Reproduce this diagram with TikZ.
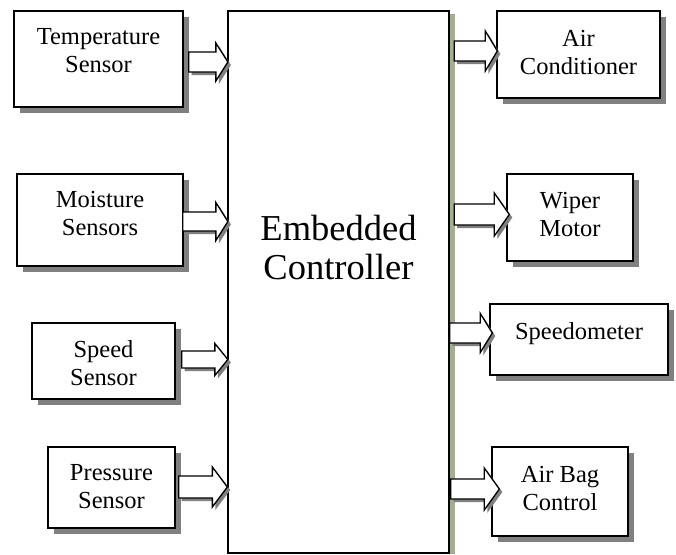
\documentclass[tikz,border=0pt]{standalone}
\usepackage{fontspec}
\setmainfont{Liberation Serif}
\usetikzlibrary{calc,shadows}
\definecolor{shadowgray}{RGB}{128,128,128}
\definecolor{sage}{RGB}{163,176,142}
\tikzset{
  x=1pt, y=-1pt,
  blk/.style={draw=black, line width=1.4pt, fill=white, inner sep=0pt,
    drop shadow={shadow xshift=5.5pt, shadow yshift=-5.5pt, fill=shadowgray, opacity=1}},
  ctrl/.style={draw=black, line width=1.3pt, fill=white, inner sep=0pt},
  txt/.style={font=\fontsize{24.5}{28}\selectfont, align=center, inner sep=0pt, anchor=north},
  bigtxt/.style={font=\fontsize{36.5}{39}\selectfont, align=center, inner sep=0pt, anchor=north},
  arr/.style={draw=black, line width=1.3pt, fill=white, line join=miter},
  arrshadow/.style={fill=shadowgray},
}
% #1 from node anchor, #2 to node anchor, #3/#4 x offsets, #5 y centre,
% #6 shaft half width, #7 head half width, #8 head length
\def\blockarrow#1#2#3#4#5#6#7#8{%
  \path let \p1=($(#1)+(#3,0)$), \p2=($(#2)+(#4,0)$) in
    coordinate (s) at (\x1,-#5pt) coordinate (e) at (\x2,-#5pt);
  \fill[arrshadow] ($(s)+(3,3-#6)$) -- ($(e)+(3-#8,3-#6)$) -- ($(e)+(3-#8,3-#7)$)
    -- ($(e)+(3,3)$) -- ($(e)+(3-#8,3+#7)$) -- ($(e)+(3-#8,3+#6)$) -- ($(s)+(3,3+#6)$) -- cycle;
  \draw[arr] ($(s)+(0,-#6)$) -- ($(e)+(-#8,-#6)$) -- ($(e)+(-#8,-#7)$)
    -- (e) -- ($(e)+(-#8,#7)$) -- ($(e)+(-#8,#6)$) -- ($(s)+(0,#6)$) -- cycle;
}
\begin{document}
\begin{tikzpicture}
\useasboundingbox (0,0) rectangle (676,554);

% central controller
\node[ctrl, minimum width=221pt, minimum height=542pt] (ec) at (338.5,282) {};
\fill[sage] ($(ec.north east)+(0.7,4)$) rectangle ($(ec.south east)+(5.5,0)$);
\node[bigtxt] (ect) at ($(ec.north)+(0,205)$) {Embedded\\Controller};

% input boxes
\node[blk, minimum width=169pt, minimum height=96pt] (ts) at (98.5,59) {};
\node[txt] (tst) at ($(ts.north)+(0,17.5)$) {Temperature\\Sensor};
\node[blk, minimum width=166pt, minimum height=92pt] (ms) at (100,220) {};
\node[txt] (mst) at ($(ms.north)+(0,17.5)$) {Moisture\\Sensors};
\node[blk, minimum width=143pt, minimum height=76pt] (ss) at (103.5,361) {};
\node[txt] (sst) at ($(ss.north)+(0,18)$) {Speed\\Sensor};
\node[blk, minimum width=127pt, minimum height=81pt] (ps) at (111.5,487.5) {};
\node[txt] (pst) at ($(ps.north)+(0,17.5)$) {Pressure\\Sensor};

% output boxes
\node[blk, minimum width=163pt, minimum height=87pt] (ac) at (578.5,54.5) {};
\node[txt] (act) at ($(ac.north)+(0,20)$) {Air\\Conditioner};
\node[blk, minimum width=126pt, minimum height=87pt] (wm) at (570,217.5) {};
\node[txt] (wmt) at ($(wm.north)+(0,18.5)$) {Wiper\\Motor};
\node[blk, minimum width=178pt, minimum height=71pt] (sp) at (579,339.5) {};
\node[txt] (spt) at ($(sp.north)+(0,18.5)$) {Speedometer};
\node[blk, minimum width=136pt, minimum height=89pt] (ab) at (560,491.5) {};
\node[txt] (abt) at ($(ab.north)+(0,19.5)$) {Air Bag\\Control};

% arrows into controller
\blockarrow{ts.east}{ec.west}{5}{0.5}{62}{10}{19}{12}
\blockarrow{ms.east}{ec.west}{-1}{0.5}{221.5}{9.5}{19}{12}
\blockarrow{ss.east}{ec.west}{6}{0.5}{359.5}{8.5}{16}{13}
\blockarrow{ps.east}{ec.west}{3}{0}{487}{11}{20}{15}

% arrows out of controller
\blockarrow{ec.east}{ac.west}{4.5}{1}{51}{10}{20}{12}
\blockarrow{ec.east}{wm.west}{4.5}{3}{214.5}{10.5}{21.5}{15}
\blockarrow{ec.east}{sp.west}{0}{3}{333}{10}{19.5}{12}
\blockarrow{ec.east}{ab.west}{1}{8}{489}{10}{21}{15}
\end{tikzpicture}
\end{document}
